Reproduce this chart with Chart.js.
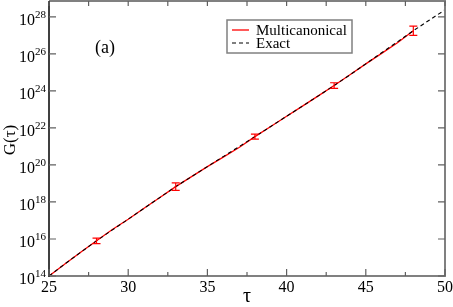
<!DOCTYPE html>
<html><head><meta charset="utf-8">
<script src="https://cdn.jsdelivr.net/npm/chart.js@4/dist/chart.umd.min.js"></script>
<style>html,body{margin:0;padding:0;background:#fff}#c{display:block}</style>
</head><body>
<canvas id="c" width="453" height="307"></canvas>
<script>
// Exact G(tau)
const tau = [25,26,27,28,29,30,31,32,33,34,35,36,37,38,39,40,41,42,43,44,45,46,47,48,49,50];
const gExact = [1.0e14,4.47e14,1.91e15,7.94e15,3.09e16,1.17e17,4.57e17,1.74e18,6.76e18,2.34e19,8.13e19,2.82e20,9.77e20,3.39e21,1.20e22,4.27e22,1.51e23,5.37e23,1.95e24,7.41e24,2.88e25,1.15e26,4.47e26,1.78e27,6.61e27,2.40e28];
// Multicanonical estimate
const tauMC = [25,26,27,28,29,30,31,32,33,34,35,36,37,38,39,40,41,42,43,44,45,46,47,48];
const gMC = [1.0e14,4.47e14,1.91e15,7.94e15,3.24e16,1.17e17,4.57e17,1.74e18,6.76e18,2.34e19,8.13e19,2.63e20,8.71e20,3.39e21,1.20e22,4.27e22,1.51e23,5.37e23,1.95e24,7.41e24,2.88e25,1.07e26,3.98e26,1.78e27];
// Error bars
const errTau = [28,33,38,43,48];
const errLow = [5.62e15,4.27e18,2.51e21,1.38e24,1.0e27];
const errHigh = [1.12e16,1.07e19,4.57e21,2.75e24,3.16e27];
// Ticks
const xTicks = [25,30,35,40,45,50];
const xMinorTicks = [27.5,32.5,37.5,42.5,47.5];
const yTickExps = [14,16,18,20,22,24,26,28];

const SERIF = '"Liberation Serif","DejaVu Serif",serif';

const deco = {
  id: 'deco',
  afterDatasetsDraw(chart) {
    const ctx = chart.ctx, a = chart.chartArea;
    const xs = chart.scales.x, ys = chart.scales.y;
    ctx.save();
    // error bars
    ctx.strokeStyle = '#ff0000'; ctx.lineWidth = 1.2;
    errTau.forEach((t, i) => {
      const px = xs.getPixelForValue(t);
      const y1 = ys.getPixelForValue(errLow[i]), y2 = ys.getPixelForValue(errHigh[i]);
      ctx.beginPath();
      ctx.moveTo(px, y1); ctx.lineTo(px, y2);
      ctx.moveTo(px - 4, y1); ctx.lineTo(px + 4, y1);
      ctx.moveTo(px - 4, y2); ctx.lineTo(px + 4, y2);
      ctx.stroke();
    });
    // frame
    ctx.strokeStyle = '#808080'; ctx.lineWidth = 2;
    ctx.beginPath();
    ctx.moveTo(a.left, a.top); ctx.lineTo(a.right, a.top); ctx.lineTo(a.right, a.bottom); ctx.lineTo(a.left, a.bottom);
    ctx.stroke();
    ctx.strokeStyle = '#000'; ctx.lineWidth = 1.5;
    ctx.beginPath(); ctx.moveTo(a.left, a.top); ctx.lineTo(a.left, a.bottom + 1); ctx.stroke();
    // ticks
    ctx.strokeStyle = '#606060'; ctx.lineWidth = 1.2;
    ctx.beginPath();
    xTicks.forEach(v => { const p = xs.getPixelForValue(v); ctx.moveTo(p, a.bottom); ctx.lineTo(p, a.bottom - 7); ctx.moveTo(p, a.top); ctx.lineTo(p, a.top + 5); });
    xMinorTicks.forEach(v => { const p = xs.getPixelForValue(v); ctx.moveTo(p, a.bottom); ctx.lineTo(p, a.bottom - 4); ctx.moveTo(p, a.top); ctx.lineTo(p, a.top + 5); });
    yTickExps.forEach(e => { const p = ys.getPixelForValue(Math.pow(10, e)); ctx.moveTo(a.left, p); ctx.lineTo(a.left + 7, p); ctx.moveTo(a.right, p); ctx.lineTo(a.right - 7, p); });
    ctx.stroke();
    // x tick labels
    ctx.fillStyle = '#000';
    ctx.font = '16px ' + SERIF; ctx.textAlign = 'center'; ctx.textBaseline = 'alphabetic';
    xTicks.forEach(v => { ctx.fillText(String(v), xs.getPixelForValue(v), 292); });
    // y tick labels
    yTickExps.forEach(e => {
      const p = ys.getPixelForValue(Math.pow(10, e));
      ctx.font = '16px ' + SERIF; ctx.textAlign = 'right';
      ctx.fillText('10', 35, p + 8);
      ctx.font = '11px ' + SERIF; ctx.textAlign = 'left';
      ctx.fillText(String(e), 35, p + 1);
    });
    // axis titles
    ctx.font = '20px ' + SERIF; ctx.textAlign = 'center';
    ctx.fillText('τ', 247, 302);
    ctx.save();
    ctx.translate(15, 140); ctx.rotate(-Math.PI / 2);
    ctx.font = '17px ' + SERIF; ctx.textBaseline = 'alphabetic';
    ctx.fillText('G(τ)', 0, 0);
    ctx.restore();
    // (a)
    ctx.font = '18px ' + SERIF; ctx.textAlign = 'left';
    ctx.fillText('(a)', 95, 53);
    // legend
    ctx.fillStyle = '#fff';
    ctx.fillRect(227, 20, 125, 33);
    ctx.strokeStyle = '#808080'; ctx.lineWidth = 1.5;
    ctx.strokeRect(227, 20, 125, 33);
    const ds = chart.data.datasets;
    const rows = [{d: ds[0], y: 30, by: 35}, {d: ds[1], y: 43, by: 48}];
    rows.forEach(r => {
      ctx.strokeStyle = r.d.borderColor; ctx.lineWidth = r.d.borderWidth;
      ctx.setLineDash(r.d.borderDash || []);
      ctx.beginPath(); ctx.moveTo(232, r.y); ctx.lineTo(249, r.y); ctx.stroke();
      ctx.setLineDash([]);
      ctx.fillStyle = '#000'; ctx.font = '15px ' + SERIF; ctx.textAlign = 'left';
      ctx.fillText(r.d.label, 256, r.by);
    });
    ctx.restore();
  }
};

new Chart(document.getElementById('c'), {
  type: 'line',
  data: {
    datasets: [
      { label: 'Multicanonical', data: tauMC.map((t, i) => ({x: t, y: gMC[i]})), borderColor: '#ff0000', borderWidth: 1.3, pointRadius: 0, fill: false, tension: 0, order: 2 },
      { label: 'Exact', data: tau.map((t, i) => ({x: t, y: gExact[i]})), borderColor: '#000000', borderWidth: 1.1, borderDash: [4, 3], pointRadius: 0, fill: false, tension: 0, order: 1 }
    ]
  },
  options: {
    responsive: false, animation: false, devicePixelRatio: 1,
    layout: { padding: { left: 0, right: 8, top: 1, bottom: 0 } },
    plugins: { legend: { display: false }, tooltip: { enabled: false } },
    scales: {
      x: { type: 'linear', min: 25, max: 50, grid: { display: false, drawTicks: false }, border: { display: false }, ticks: { display: false }, afterFit: s => { s.height = 31; } },
      y: { type: 'logarithmic', min: 1e14, max: 7.2e28, grid: { display: false, drawTicks: false }, border: { display: false }, ticks: { display: false }, afterFit: s => { s.width = 49; } }
    }
  },
  plugins: [deco]
});
</script>
</body></html>
